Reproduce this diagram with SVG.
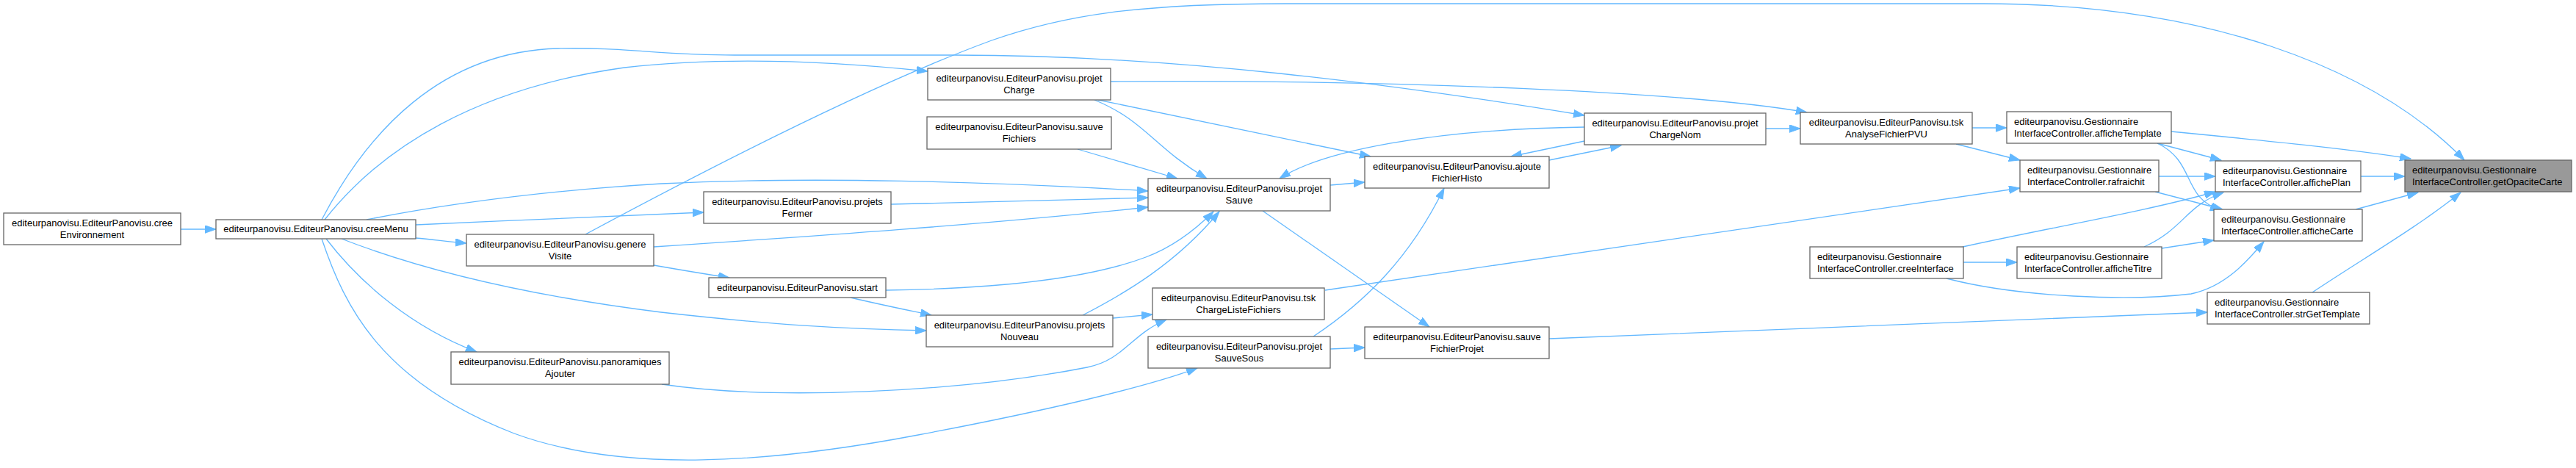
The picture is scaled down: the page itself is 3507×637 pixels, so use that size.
<svg xmlns="http://www.w3.org/2000/svg" width="3507" height="637" viewBox="0 0 3507 637">
<style>
.n rect{fill:#ffffff;stroke:#666666;stroke-width:1.3}
.r rect{fill:#999999;stroke:#666666;stroke-width:1.3}
text{font-family:"Liberation Sans",Arial,sans-serif;font-size:13px;fill:#000000}
.c{text-anchor:middle}
.l{text-anchor:start}
#edges path{fill:none;stroke:#63b8ff;stroke-width:1.3;marker-end:url(#a)}
</style>
<defs>
<marker id="a" markerUnits="userSpaceOnUse" markerWidth="16" markerHeight="11" refX="15" refY="5.25" orient="auto" viewBox="0 0 16 11">
<path d="M0,0 L15,5.25 L0,10.5 z" fill="#63b8ff" stroke="#63b8ff" stroke-width="1"/>
</marker>
</defs>
<rect x="0" y="0" width="3507" height="637" fill="#ffffff"/>
<g id="edges">
<path d="M246,312 L294,312"/>
<path d="M566,324 C590,326 610,329 635,331"/>
<path d="M566,306 C700,300 850,293 958,289"/>
<path d="M499,299 C560,287 700,262 900,250 C1100,240 1350,247 1563,260"/>
<path d="M442,299 C520,200 650,120 850,92 C1000,75 1150,85 1263,97"/>
<path d="M438,299 C500,180 600,70 760,66 C850,64 900,75 1000,75 L1300,75 C1600,75 1900,115 2157,157"/>
<path d="M797,319 C1000,210 1200,110 1350,55 C1450,20 1550,5 1750,5 L2700,5 C3000,5 3230,90 3355,218"/>
<path d="M465,325 C560,362 700,400 900,425 C1050,442 1150,448 1261,450"/>
<path d="M444,325 C490,385 560,445 649,479"/>
<path d="M438,325 C470,420 520,520 700,590 C850,645 1050,630 1250,592 C1420,560 1560,527 1630,501"/>
<path d="M890,336 C1100,322 1350,305 1563,282"/>
<path d="M1213,278 C1350,275 1450,272 1563,269"/>
<path d="M890,361 C930,368 960,373 993,378"/>
<path d="M1206,395 C1350,393 1480,380 1560,350 C1600,335 1630,310 1652,288"/>
<path d="M1158,405 C1200,415 1240,423 1268,429"/>
<path d="M1474,429 C1530,400 1600,360 1660,288"/>
<path d="M1515,433 L1569,428"/>
<path d="M901,523 C1050,545 1300,535 1480,500 C1530,490 1540,455 1588,435"/>
<path d="M1490,136 C1560,165 1570,200 1643,243"/>
<path d="M1467,203 L1603,243"/>
<path d="M1495,136 L1866,213"/>
<path d="M1512,111 C1900,108 2300,125 2460,153"/>
<path d="M2157,173 C1950,176 1800,205 1742,243"/>
<path d="M1811,252 L1858,248"/>
<path d="M1719,287 L1946,445"/>
<path d="M1788,458 C1860,410 1920,350 1966,256"/>
<path d="M1811,475 L1858,473"/>
<path d="M2109,218 L2207,198"/>
<path d="M2157,192 L2057,213"/>
<path d="M2404,175 L2451,175"/>
<path d="M2685,174 L2732,174"/>
<path d="M2663,196 L2750,218"/>
<path d="M1804,395 L2750,256"/>
<path d="M2109,461 C2400,450 2800,432 3005,425"/>
<path d="M2673,357 L2746,357"/>
<path d="M2672,336 C2800,308 2920,288 3016,261"/>
<path d="M2650,379 C2750,405 2900,410 2983,400 C3030,390 3060,355 3082,329"/>
<path d="M2939,240 L3016,240"/>
<path d="M2934,261 L3026,285"/>
<path d="M2937,195 L3024,218"/>
<path d="M2937,195 C2990,220 2970,270 3024,286"/>
<path d="M2919,336 C2975,310 2975,280 3027,262"/>
<path d="M2943,338 L3014,327"/>
<path d="M2956,179 C3100,193 3200,203 3282,216"/>
<path d="M3214,240 L3274,240"/>
<path d="M3207,285 L3292,262"/>
<path d="M3148,398 C3220,350 3290,310 3350,262"/>
</g>
<g id="creeEnvironnement" class="n"><rect x="5" y="290" width="241" height="43"/><text class="c" x="125.5" y="308">editeurpanovisu.EditeurPanovisu.cree</text><text class="c" x="125.5" y="323.5">Environnement</text></g>
<g id="creeMenu" class="n"><rect x="294" y="299" width="272" height="26"/><text class="c" x="430" y="316">editeurpanovisu.EditeurPanovisu.creeMenu</text></g>
<g id="genereVisite" class="n"><rect x="635" y="319" width="255" height="43"/><text class="c" x="762.5" y="337">editeurpanovisu.EditeurPanovisu.genere</text><text class="c" x="762.5" y="352.5">Visite</text></g>
<g id="projetsFermer" class="n"><rect x="958" y="261" width="255" height="43"/><text class="c" x="1085.5" y="279">editeurpanovisu.EditeurPanovisu.projets</text><text class="c" x="1085.5" y="294.5">Fermer</text></g>
<g id="start" class="n"><rect x="965" y="378" width="241" height="27"/><text class="c" x="1085.5" y="396">editeurpanovisu.EditeurPanovisu.start</text></g>
<g id="panoramiquesAjouter" class="n"><rect x="614" y="479" width="297" height="44"/><text class="c" x="762.5" y="497">editeurpanovisu.EditeurPanovisu.panoramiques</text><text class="c" x="762.5" y="512.5">Ajouter</text></g>
<g id="projetCharge" class="n"><rect x="1263" y="93" width="249" height="43"/><text class="c" x="1387.5" y="111">editeurpanovisu.EditeurPanovisu.projet</text><text class="c" x="1387.5" y="126.5">Charge</text></g>
<g id="sauveFichiers" class="n"><rect x="1262" y="159" width="251" height="44"/><text class="c" x="1387.5" y="177">editeurpanovisu.EditeurPanovisu.sauve</text><text class="c" x="1387.5" y="192.5">Fichiers</text></g>
<g id="projetSauve" class="n"><rect x="1563" y="243" width="248" height="44"/><text class="c" x="1687" y="261">editeurpanovisu.EditeurPanovisu.projet</text><text class="c" x="1687" y="276.5">Sauve</text></g>
<g id="projetsNouveau" class="n"><rect x="1261" y="429" width="254" height="43"/><text class="c" x="1388" y="447">editeurpanovisu.EditeurPanovisu.projets</text><text class="c" x="1388" y="462.5">Nouveau</text></g>
<g id="tskChargeListeFichiers" class="n"><rect x="1569" y="392" width="234" height="43"/><text class="c" x="1686" y="410">editeurpanovisu.EditeurPanovisu.tsk</text><text class="c" x="1686" y="425.5">ChargeListeFichiers</text></g>
<g id="projetSauveSous" class="n"><rect x="1563" y="458" width="248" height="43"/><text class="c" x="1687" y="476">editeurpanovisu.EditeurPanovisu.projet</text><text class="c" x="1687" y="491.5">SauveSous</text></g>
<g id="ajouteFichierHisto" class="n"><rect x="1858" y="213" width="251" height="43"/><text class="c" x="1983.5" y="231">editeurpanovisu.EditeurPanovisu.ajoute</text><text class="c" x="1983.5" y="246.5">FichierHisto</text></g>
<g id="sauveFichierProjet" class="n"><rect x="1858" y="445" width="251" height="43"/><text class="c" x="1983.5" y="463">editeurpanovisu.EditeurPanovisu.sauve</text><text class="c" x="1983.5" y="478.5">FichierProjet</text></g>
<g id="projetChargeNom" class="n"><rect x="2157" y="154" width="247" height="43"/><text class="c" x="2280.5" y="172">editeurpanovisu.EditeurPanovisu.projet</text><text class="c" x="2280.5" y="187.5">ChargeNom</text></g>
<g id="tskAnalyseFichierPVU" class="n"><rect x="2451" y="153" width="234" height="43"/><text class="c" x="2568" y="171">editeurpanovisu.EditeurPanovisu.tsk</text><text class="c" x="2568" y="186.5">AnalyseFichierPVU</text></g>
<g id="creeInterface" class="n"><rect x="2464" y="336" width="209" height="43"/><text class="l" x="2474" y="354">editeurpanovisu.Gestionnaire</text><text class="l" x="2474" y="369.5">InterfaceController.creeInterface</text></g>
<g id="afficheTemplate" class="n"><rect x="2732" y="152" width="224" height="43"/><text class="l" x="2742" y="170">editeurpanovisu.Gestionnaire</text><text class="l" x="2742" y="185.5">InterfaceController.afficheTemplate</text></g>
<g id="rafraichit" class="n"><rect x="2750" y="218" width="189" height="43"/><text class="l" x="2760" y="236">editeurpanovisu.Gestionnaire</text><text class="l" x="2760" y="251.5">InterfaceController.rafraichit</text></g>
<g id="afficheTitre" class="n"><rect x="2746" y="336" width="197" height="43"/><text class="l" x="2756" y="354">editeurpanovisu.Gestionnaire</text><text class="l" x="2756" y="369.5">InterfaceController.afficheTitre</text></g>
<g id="affichePlan" class="n"><rect x="3016" y="219" width="198" height="42"/><text class="l" x="3026" y="237">editeurpanovisu.Gestionnaire</text><text class="l" x="3026" y="252.5">InterfaceController.affichePlan</text></g>
<g id="afficheCarte" class="n"><rect x="3014" y="285" width="202" height="43"/><text class="l" x="3024" y="303">editeurpanovisu.Gestionnaire</text><text class="l" x="3024" y="318.5">InterfaceController.afficheCarte</text></g>
<g id="strGetTemplate" class="n"><rect x="3005" y="398" width="221" height="43"/><text class="l" x="3015" y="416">editeurpanovisu.Gestionnaire</text><text class="l" x="3015" y="431.5">InterfaceController.strGetTemplate</text></g>
<g id="getOpaciteCarte" class="r"><rect x="3274" y="218" width="227" height="43"/><text class="l" x="3284" y="236">editeurpanovisu.Gestionnaire</text><text class="l" x="3284" y="251.5">InterfaceController.getOpaciteCarte</text></g>
</svg>
